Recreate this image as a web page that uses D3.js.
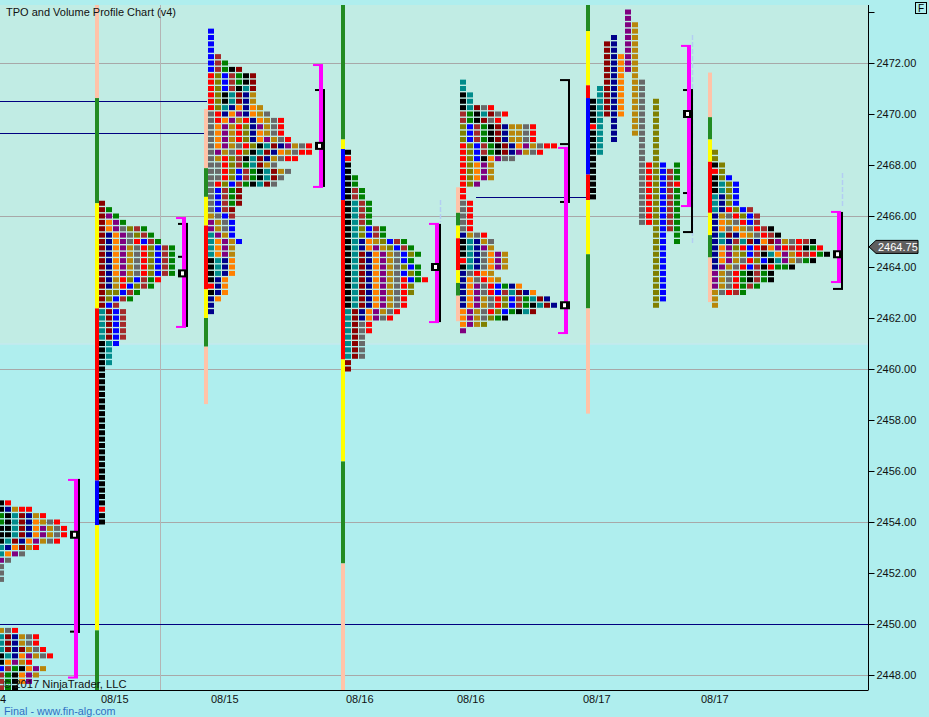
<!DOCTYPE html>
<html><head><meta charset="utf-8">
<script src="https://cdn.jsdelivr.net/npm/d3@7"></script>
<style>
body{margin:0;background:#afeeee;}
svg{display:block;font-family:"Liberation Sans",Arial,sans-serif;}
</style></head>
<body><svg id="chart" width="929" height="717"></svg>
<script>
// ---------------- DATA ----------------
const sessionIds = ["s1","s2","s3","s4","s5","s6","s7"];
const dateLabels = ["4","08/15","08/15","08/16","08/16","08/17","08/17"];
const priceTicks = [2448,2450,2452,2454,2456,2458,2460,2462,2464,2466,2468,2470,2472,2474];
const gridPrices = [2448,2454,2460,2466,2472];
const shadedLow = 2461.0;
const lastPrice = 2464.75;

// TPO letters (colour codes) per price row, top row first, 0.25 step
const s1UpperTop = 2454.75;
const s1UpperRows = ["KR","KNYRR","GKTDNYR","GKTDNAYER","KKTDNAPYER","KKTDNAPYER","KTDNAPYER","TNADYR","TAPE","PE","E","E","E"];
const s1LowerTop = 2449.75;
const s1LowerRows = ["YER","TDNYER","TDNYER","TDNDYER","KTNAPYER","KAPYR","BWGKAPY","WGKAPY","WGKAP","WGK"];
const s2Top = 2466.5;
const s2Rows = ["D","DG","DPG","DAPG","DAPEOWG","DNAPEOWG","DNAPERBWG","DNAPYEROBWG","DNAPYEROBWG","DNAPYEROBWG","DNAPYEROBWG","DNAPYEROBWG","DNYROBWGR","DNYRBOWG","DOOBWG","DOBWG","DBW","TDBW","TDBW","TDBW","TDBW","TDBW","KTB","KT","KT","KT","K",
  "K","K","K","K","K","K","K","K","K","K","K","K","K","K","K","K","K","K","K","K","K","R","K","K"];
const s3Top = 2473.25;
const s3Rows = ["B","B","B","B","BW","BWG","BWGKD","ROBWGKD","ROBWGKD","ROBWKTD","ROKTDNY","ROKTDNY","ROTNANAY","ERNAPNAYE","ERAPYRNAYER","EAPYRONPYER","EAPYRONAYER","EAPYRONAPYER","EAPYEROKTDNPYER","EPYEROKTDNAYERR","EYROWKTDNYERR","EEROWGTDYE","EEROBWGKTDYE","EEROBWGKTDE","EROBWGKTDE",
  "EBWGD","EBWGD","EBWGD","EBWD","YEBW","PYEB","PYEB","TPYB","TAPYB","TAPY","TAPY","KTNA","KTNA","KTNA","KNA","RNA","KNA","NA","N","N"];
const s4Top = 2468.5;
const s4Rows = ["K","R","K","K","KG","KG","KWG","KWG","KTWG","KTWG","KTWG","KTWG","KTOBWG","KTOBWG","KTNAYOBWG","KTNAPYOBWG","KTDNAPYEBOG","KTDNAPYEBG","KTDNAPYEOBG","KTDNAPYEBOG","KTDNAPYERBGR","KTDNAPYERO","KTDNAPYERO","KTDNAPYER","KTDNAPYER","TDNAPYER","TDNAPER","TDER","TDER","TDE","TDE","TDE","TDE","D","D"];
const s5Top = 2471.25;
const s5Rows = ["T","T","KT","KT","KTDER","WGKTDER","WGKDER","OBWGKDNYYER","OBWGKDNYYER","OBWGKDNYYER","ROBWGKDNAPYERR","ROBWGKDNPYER","ROBKAPEE","ROAPY","ROAPY","ROAPY","ROP","R","R","ER","ER","ER","ER","ER","NYER","KTNYE","KTNPY","KTNEAPY","RTNEAPY","KTNEAPY","NERAY","NAERAY","NAPERBGNA","NAPERBWTDNA","NAPYEROBWGTDN","NAPYEROBWGKTDN","APYEROBGKTD","APYEOGK","APYO","P"];
const s7Top = 2468.5;
const s7Rows = ["O","O","KO","RO","KOB","KTOB","KTOB","TNOB","TNOB","TNROBW","NYEROBW","NAYERBW","NAEAYERWK","NTDNAYERWK","NTNWTDNADPYERWK","NAPORBRDAPRWRKGR","NAPYOBWKTAPYRWRGK","NAPYEROBKTPYEGK","NPYERBWKRGGK","PYERGKWGK","PYERGKWGK","PYERGWG","YERWG","Y","Y"];
// session 6 is a split profile: one column per period [top price, letters downward]
const s6ColTops = [2470.5,2471.0,2472.75,2473.0,2472.25,2474.0,2473.5,2471.25,2468.0,2470.5,2468.0,2467.75,2468.0];
const s6ColLetters = ["KKKKRKKKKKKKKKKK","TTTTTTTTTTT","DDDDDDDDDDDD","NNNNNNNNNNNNNNNNN","AAAAAAAAAA","PPPPPPPPPP","YYYYYYYYYYYYYYYYYY","EEEEEEEEEEEEEEEEEEEEEEE","RRRRRRRRRR","OOOOOOOOOOOOOOOOOOOOOOOOOOOOOOOOO","BBBBBBBBBBBBBBBBBBBBBB","WWWWWWWWWW","GGGRGGGGGGGGG"];

// session colour bars: [high, low, colour key]
const s2Bar = [[2474.5,2470.625,"S"],[2470.625,2466.5,"F"],[2466.5,2462.375,"Yl"],[2462.375,2455.625,"R"],[2455.625,2453.875,"B"],[2453.875,2449.75,"Yl"],[2449.75,2447,"F"]];
const s3Bar = [[2470.2,2467.875,"S"],[2467.875,2466.75,"F"],[2466.75,2465.625,"Yl"],[2465.625,2463.125,"R"],[2463.125,2462.0,"Yl"],[2462.0,2460.875,"F"],[2460.875,2458.625,"S"]];
const s4Bar = [[2474.5,2469.0,"F"],[2469.0,2468.625,"Yl"],[2468.625,2466.625,"B"],[2466.625,2460.375,"R"],[2460.375,2456.375,"Yl"],[2456.375,2452.375,"F"],[2452.375,2447,"S"]];
const s5Bar = [[2467.125,2466.125,"S"],[2466.125,2465.625,"F"],[2465.625,2465.125,"Yl"],[2465.125,2463.875,"R"],[2463.875,2463.375,"Yl"],[2463.375,2462.875,"F"],[2462.875,2461.875,"S"]];
const s6Bar = [[2474.5,2473.25,"F"],[2473.25,2471.125,"Yl"],[2471.125,2470.625,"R"],[2470.625,2467.625,"B"],[2467.625,2466.625,"R"],[2466.625,2464.5,"Yl"],[2464.5,2462.375,"F"],[2462.375,2458.25,"S"]];
const s7Bar = [[2471.625,2469.875,"S"],[2469.875,2469.0,"F"],[2469.0,2468.125,"Yl"],[2468.125,2466.125,"R"],[2466.125,2465.25,"Yl"],[2465.25,2464.375,"F"],[2464.375,2462.625,"S"]];

// value area (magenta) and range (black) brackets, POC
const vaHigh = [2455.65,2465.92,2471.92,2465.69,2468.67,2472.67,2466.16];
const vaLow  = [2447.9,2461.65,2467.14,2461.84,2461.41,2466.39,2463.41];
const rngHigh = [2455.69,2465.69,2470.94,2465.69,2471.33,2470.94,2466.16];
const rngLow  = [2449.65,2461.65,2467.14,2461.84,2466.55,2465.37,2463.14];
const rngTicks = [[2449.7],[2465.69,2464.4],[2470.94],[],[2471.33,2468.82,2466.55],[2470.94,2466.9,2465.37],[2463.14]];
const pocPrice = [2453.5,2463.75,2468.75,2464.0,2462.5,2470.0,2464.5];
// faint dashed close/wick lines [session, high, low]
const dashSessions = ["s4","s6","s7"];
const dashHigh = [2466.63,2473.1,2467.69];
const dashLow  = [2465.76,2464.86,2466.35];

// horizontal reference lines (navy)
const refPrices = [2470.5,2469.25,2466.75,2450.0];

// ---------------- LAYOUT / STYLE ----------------
const W = 929, H = 717, plotR = 868, plotT = 5, plotB = 690;
const letterColor = {R:"#ff0000",O:"#808000",B:"#0000ff",W:"#a52a2a",G:"#008000",K:"#000000",T:"#008b8b",D:"#8b0000",N:"#00008b",A:"#ff8000",P:"#800080",Y:"#b8860b",E:"#696969"};
const barColor = {S:"#ffc3a8",F:"#228b22",Yl:"#ffff00",R:"#ff0000",B:"#0000ff"};
const cellX = d3.scaleOrdinal().domain(sessionIds).range([-2,99,208,345,460,590,712]);
const barX = d3.scaleOrdinal().domain(sessionIds).range([null,95,204,341,456,586,708]);
const vaX = d3.scaleOrdinal().domain(sessionIds).range([74,182,319,435,564,687,837]);
const rngX = d3.scaleOrdinal().domain(sessionIds).range([78,186,323,439,568,691,841]);
const labelX = d3.scaleOrdinal().domain(sessionIds).range([0,101,211,346,457,583,701]);
const refX = [[0,207],[0,207],[476,590],[0,868]];
const step = 0.25, pitch = 7;

const y = d3.scaleLinear().domain([2448,2472]).range([675,63]);

const svg = d3.select("#chart");
svg.append("rect").attr("width",W).attr("height",H).attr("fill","#afeeee");
const defs = svg.append("defs");
defs.append("clipPath").attr("id","plot").append("rect").attr("x",0).attr("y",plotT).attr("width",plotR).attr("height",plotB-plotT);
const plot = svg.append("g").attr("clip-path","url(#plot)");

// shaded band
plot.append("rect").attr("x",0).attr("y",plotT).attr("width",plotR).attr("height",y(shadedLow)-plotT).attr("fill","#c1ece4");
plot.append("line").attr("x1",0).attr("x2",plotR).attr("y1",y(shadedLow)+0.5).attr("y2",y(shadedLow)+0.5).attr("stroke","#cfe6ee");

// grid
plot.selectAll(".grid").data(gridPrices).join("line")
  .attr("x1",0).attr("x2",plotR).attr("y1",d=>Math.round(y(d))+0.5).attr("y2",d=>Math.round(y(d))+0.5)
  .attr("stroke","#a8a8a8").attr("stroke-width",1);
plot.append("line").attr("x1",160.5).attr("x2",160.5).attr("y1",plotT).attr("y2",plotB).attr("stroke","#b4b4b4");

// navy reference lines
plot.selectAll(".ref").data(refPrices).join("line")
  .attr("x1",(d,i)=>refX[i][0]).attr("x2",(d,i)=>refX[i][1])
  .attr("y1",d=>Math.round(y(d))+0.5).attr("y2",d=>Math.round(y(d))+0.5)
  .attr("stroke","#000080").attr("stroke-width",1);

// faint dashed lines
plot.selectAll(".dash").data(dashSessions).join("line")
  .attr("x1",d=>rngX(d)+1.5).attr("x2",d=>rngX(d)+1.5)
  .attr("y1",(d,i)=>y(dashHigh[i])).attr("y2",(d,i)=>y(dashLow[i]))
  .attr("stroke","#b4cdf2").attr("stroke-width",1.5).attr("stroke-dasharray","5,2");

// session colour bars
const bars = [];
[[ "s2",s2Bar],["s3",s3Bar],["s4",s4Bar],["s5",s5Bar],["s6",s6Bar],["s7",s7Bar]].forEach(([sid,segs])=>{
  segs.forEach(s=>bars.push({sid,hi:s[0],lo:s[1],c:s[2]}));
});
plot.selectAll(".bar").data(bars).join("rect")
  .attr("x",d=>barX(d.sid)).attr("width",4)
  .attr("y",d=>y(d.hi)).attr("height",d=>y(d.lo)-y(d.hi))
  .attr("fill",d=>barColor[d.c]);

// TPO cells
const cells = [];
[["s1",s1UpperTop,s1UpperRows],["s1",s1LowerTop,s1LowerRows],["s2",s2Top,s2Rows],["s3",s3Top,s3Rows],["s4",s4Top,s4Rows],["s5",s5Top,s5Rows],["s7",s7Top,s7Rows]]
  .forEach(([sid,top,rows])=>rows.forEach((str,i)=>{
    const p = top - i*step;
    [...str].forEach((ch,j)=>cells.push({sid,p,col:j,ch}));
  }));
s6ColTops.forEach((top,j)=>{
  [...s6ColLetters[j]].forEach((ch,i)=>cells.push({sid:"s6",p:top-i*step,col:j,ch}));
});
plot.selectAll(".cell").data(cells).join("rect")
  .attr("x",d=>cellX(d.sid)+d.col*pitch)
  .attr("y",d=>y(d.p+step/2)+0.7)
  .attr("width",6).attr("height",5)
  .attr("fill",d=>letterColor[d.ch]);

// range brackets (black)
sessionIds.forEach((sid,i)=>{
  const x = rngX(sid);
  plot.append("rect").attr("x",x).attr("width",2).attr("y",y(rngHigh[i])).attr("height",y(rngLow[i])-y(rngHigh[i])).attr("fill","#000");
  rngTicks[i].forEach(t=>{
    plot.append("rect").attr("x",x-8).attr("width",10).attr("y",y(t)-1).attr("height",2).attr("fill","#000");
  });
});
// value area brackets (magenta)
sessionIds.forEach((sid,i)=>{
  const x = vaX(sid);
  const g = plot.append("g").attr("fill","#ff00ff");
  g.append("rect").attr("x",x).attr("width",4).attr("y",y(vaHigh[i])).attr("height",y(vaLow[i])-y(vaHigh[i]));
  g.append("rect").attr("x",x-6).attr("width",10).attr("y",y(vaHigh[i])-1).attr("height",2);
  g.append("rect").attr("x",x-6).attr("width",10).attr("y",y(vaLow[i])-1).attr("height",2);
});
// POC markers
sessionIds.forEach((sid,i)=>{
  const x = rngX(sid)-8, yc = y(pocPrice[i]);
  plot.append("rect").attr("x",x).attr("y",yc-4).attr("width",10).attr("height",8).attr("fill","#000");
  plot.append("rect").attr("x",x+3).attr("y",yc-2).attr("width",3).attr("height",4).attr("fill","#ffffff");
});

// axes frame
svg.append("line").attr("x1",0).attr("x2",plotR+0.5).attr("y1",plotB+0.5).attr("y2",plotB+0.5).attr("stroke","#000");
const axis = d3.axisRight(y).tickValues(priceTicks).tickSize(6).tickPadding(2)
  .tickFormat(d=>d===2474?"":d3.format(".2f")(d));
const ag = svg.append("g").attr("transform",`translate(${plotR+0.5},0)`).call(axis);
ag.select(".domain").attr("d",`M0,${plotT}V${plotB}`).attr("stroke","#000");
ag.selectAll(".tick line").attr("stroke","#000");
ag.selectAll("text").attr("font-size",11).attr("fill","#111").attr("font-family","'Liberation Sans',Arial,sans-serif");

// last price tag
const ty = y(lastPrice)-1;
svg.append("path").attr("d",`M869,${ty} L876,${ty-6.5} L918,${ty-6.5} L918,${ty+6.5} L876,${ty+6.5} Z`)
  .attr("fill","#5f5f5f").attr("stroke","#000").attr("stroke-width",1);
svg.append("text").attr("x",878).attr("y",ty+4).attr("fill","#fff").attr("font-size",11).text(d3.format(".2f")(lastPrice));

// F box
svg.append("rect").attr("x",915.5).attr("y",2.5).attr("width",11).attr("height",11).attr("fill","none").attr("stroke","#000");
svg.append("text").attr("x",918).attr("y",12).attr("font-size",10).attr("fill","#000").text("F");

// date labels
svg.selectAll(".dl").data(dateLabels).join("text")
  .attr("x",(d,i)=>labelX(sessionIds[i])).attr("y",703)
  .attr("font-size",11).attr("fill","#111").text(d=>d);

// texts
svg.append("text").attr("x",6).attr("y",16).attr("font-size",11).attr("fill","#111").text("TPO and Volume Profile Chart (v4)");
svg.append("text").attr("x",3).attr("y",688).attr("font-size",11.2).attr("fill","#111").text("© 2017 NinjaTrader, LLC");
svg.append("text").attr("x",4).attr("y",714.5).attr("font-size",10.8).attr("fill","#2f6fc4").text("Final - www.fin-alg.com");
</script>
</body></html>
